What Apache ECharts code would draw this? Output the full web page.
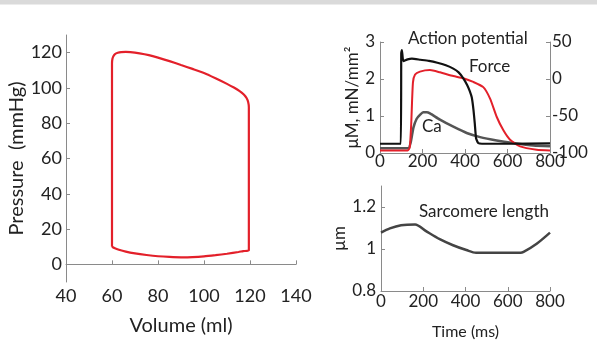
<!DOCTYPE html>
<html><head><meta charset="utf-8">
<script src="https://cdn.jsdelivr.net/npm/echarts@6/dist/echarts.min.js"></script>
<style>html,body{margin:0;padding:0;background:#fff}#c{width:597px;height:341px}</style>
</head><body><div id="c"></div>
<script>
// PV loop (volume ml, pressure mmHg), traversed in order
const pvVolume   = [60, 60, 60.2, 60.6, 61.3, 62.5, 64, 66, 68, 72, 76, 80, 85, 90, 95, 100, 105, 110, 113, 115.5, 117.3, 118.5, 119.2, 119.5, 119.5, 117, 115, 110, 105, 100, 95, 90, 85, 80, 75, 70, 66, 63, 61, 60];
const pvPressure = [10, 114, 116.5, 118, 119.2, 119.9, 120.3, 120.4, 120.3, 119.6, 118.6, 117.2, 115.2, 113, 110.8, 108.5, 105.5, 102.3, 100.2, 98.2, 96.3, 94.3, 92, 89, 8, 7.5, 7, 6, 5.2, 4.5, 4.1, 4, 4.2, 4.6, 5.3, 6.2, 7.2, 8.3, 9.3, 10];

// Time courses (ms)
const apTime  = [0, 98, 100, 103, 110, 130, 150, 190, 230, 270, 310, 345, 370, 392, 410, 422, 432, 440, 446, 452, 462, 480, 600, 800];
const apValue = [-87.5, -87.5, 35, 39, 24, 26.5, 27.5, 26, 24.5, 22, 18.5, 14, 9, 1, -8, -16, -25, -42, -60, -80, -86.5, -87.5, -87.5, -87];

const forceTime  = [0, 130, 140, 147, 155, 165, 188, 235, 282, 345, 392, 439, 486, 518, 549, 580, 612, 659, 737, 800];
const forceValue = [0.07, 0.07, 0.15, 0.8, 1.9, 2.12, 2.2, 2.24, 2.18, 2.08, 2.02, 1.92, 1.78, 1.47, 0.98, 0.62, 0.36, 0.18, 0.09, 0.07];

const caTime  = [0, 133, 145, 157, 172, 188, 204, 220, 235, 282, 345, 408, 471, 549, 627, 722, 800];
const caValue = [0.13, 0.13, 0.3, 0.68, 0.92, 1.03, 1.1, 1.1, 1.07, 0.9, 0.71, 0.54, 0.43, 0.34, 0.27, 0.2, 0.18];

const slTime  = [0, 42, 95, 161, 215, 278, 341, 404, 450, 660, 675, 737, 800];
const slValue = [1.078, 1.098, 1.113, 1.117, 1.084, 1.047, 1.018, 0.995, 0.982, 0.982, 0.986, 1.025, 1.078];

const pvXTicks = [40, 60, 80, 100, 120, 140];
const pvYTicks = [0, 20, 40, 60, 80, 100, 120];
const slYTicks = [0.8, 1, 1.2];

const F = 'Lato, "Open Sans", sans-serif';
const TXT = '#222';
const AX = '#8a8a8a';
const RED = '#e3202a';

function zip(a, b) { return a.map((v, i) => [v, b[i]]); }

function axisBase(fs) {
  return {
    axisLine: { show: true, lineStyle: { color: AX, width: 1 } },
    axisTick: { show: true, inside: true, length: 4, lineStyle: { color: AX } },
    splitLine: { show: false },
    axisLabel: { color: TXT, fontFamily: F, fontSize: fs }
  };
}
function merge(a, b) { return Object.assign(a, b); }

const chart = echarts.init(document.getElementById('c'));
const xa0 = axisBase(18); xa0.axisLabel.margin = 5;
const ya0 = axisBase(18); ya0.axisLabel.margin = 4; ya0.axisLabel.customValues = pvYTicks; ya0.axisTick.customValues = pvYTicks;
const xa1 = axisBase(17); xa1.axisLabel.margin = 0;
const ya1 = axisBase(17); ya1.axisLabel.margin = 5;
const ya1r = axisBase(17); ya1r.axisLabel.margin = 2;
const xa2 = axisBase(17); xa2.axisLabel.margin = 2;
const ya2 = axisBase(17); ya2.axisLabel.margin = 5; ya2.axisLabel.customValues = slYTicks; ya2.axisTick.customValues = slYTicks;

chart.setOption({
  animation: false,
  backgroundColor: '#fff',
  grid: [
    { left: 66, top: 35, width: 230, height: 263 },
    { left: 380, top: 42, width: 170, height: 111 },
    { left: 381, top: 186, width: 169, height: 113 }
  ],
  xAxis: [
    merge(xa0, { gridIndex: 0, type: 'value', min: 40, max: 140, interval: 20,
      name: 'Volume (ml)', nameLocation: 'middle', nameGap: 34,
      nameTextStyle: { color: TXT, fontFamily: F, fontSize: 20 } }),
    merge(xa1, { gridIndex: 1, type: 'value', min: 0, max: 800, interval: 200 }),
    merge(xa2, { gridIndex: 2, type: 'value', min: 0, max: 800, interval: 200,
      name: 'Time (ms)', nameLocation: 'middle', nameGap: 33,
      nameTextStyle: { color: TXT, fontFamily: F, fontSize: 16 } })
  ],
  yAxis: [
    merge(ya0, { gridIndex: 0, type: 'value', min: -10, max: 130,
      name: 'Pressure  (mmHg)', nameLocation: 'middle', nameGap: 37,
      nameTextStyle: { color: TXT, fontFamily: F, fontSize: 20 } }),
    merge(ya1, { gridIndex: 1, type: 'value', min: 0, max: 3, interval: 1,
      name: 'μM, mN/mm²', nameLocation: 'middle', nameGap: 19,
      nameTextStyle: { color: TXT, fontFamily: F, fontSize: 17 } }),
    merge(ya1r, { gridIndex: 1, type: 'value', min: -100, max: 50, interval: 50, position: 'right' }),
    merge(ya2, { gridIndex: 2, type: 'value', min: 0.8, max: 1.3,
      name: 'µm', nameLocation: 'middle', nameGap: 23,
      nameTextStyle: { color: TXT, fontFamily: F, fontSize: 17 } })
  ],
  series: [
    { type: 'line', xAxisIndex: 0, yAxisIndex: 0, data: zip(pvVolume, pvPressure), showSymbol: false, smooth: 0.2,
      lineStyle: { color: RED, width: 2.2 } },
    { type: 'line', xAxisIndex: 1, yAxisIndex: 1, data: zip(caTime, caValue), showSymbol: false, smooth: 0.2,
      lineStyle: { color: '#555', width: 2.5 } },
    { type: 'line', xAxisIndex: 1, yAxisIndex: 1, data: zip(forceTime, forceValue), showSymbol: false, smooth: 0.2,
      lineStyle: { color: RED, width: 2 } },
    { type: 'line', xAxisIndex: 1, yAxisIndex: 2, data: zip(apTime, apValue), showSymbol: false, smooth: 0.15,
      lineStyle: { color: '#111', width: 2.2 } },
    { type: 'line', xAxisIndex: 2, yAxisIndex: 3, data: zip(slTime, slValue), showSymbol: false, smooth: 0.3,
      lineStyle: { color: '#444', width: 2.5 } }
  ],
  graphic: [
    { type: 'rect', shape: { x: 0, y: 0, width: 597, height: 4 }, style: { fill: '#dadada' }, silent: true },
    { type: 'rect', shape: { x: 0, y: 4, width: 597, height: 1 }, style: { fill: '#ececec' }, silent: true },
    { type: 'text', left: 408, top: 30, style: { text: 'Action potential', fill: TXT, font: '17px ' + F } },
    { type: 'text', left: 469, top: 58, style: { text: 'Force', fill: TXT, font: '17px ' + F } },
    { type: 'text', left: 422, top: 118, style: { text: 'Ca', fill: TXT, font: '17px ' + F } },
    { type: 'text', left: 419, top: 203, style: { text: 'Sarcomere length', fill: TXT, font: '17px ' + F } }
  ]
});
</script></body></html>
